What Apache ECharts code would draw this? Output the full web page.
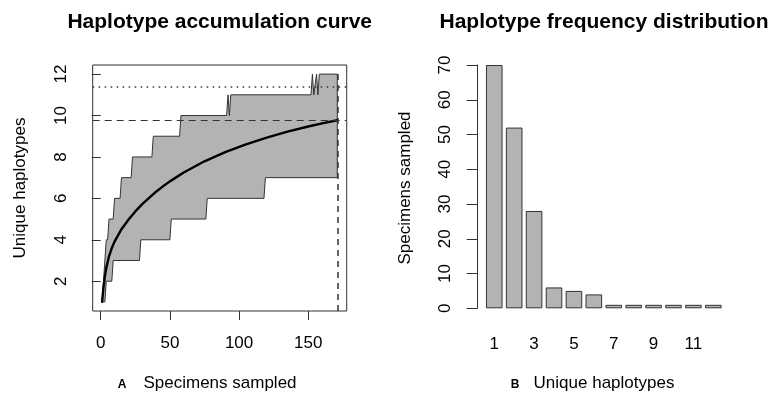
<!DOCTYPE html>
<html>
<head>
<meta charset="utf-8">
<script src="https://cdn.jsdelivr.net/npm/echarts@6/dist/echarts.min.js"></script>
<style>
  html, body { margin: 0; padding: 0; background: #fff; }
  #chart { width: 770px; height: 396px; }
</style>
</head>
<body>
<div id="chart"></div>
<script>
// left: haplotype accumulation (envelope corners + mean curve)
const upperX = [1, 4, 5, 6, 9, 10, 14, 15, 22, 23, 37, 38, 57, 58, 91, 92, 93, 94, 152, 153, 154, 156, 157, 158, 171]
const upperY = [1, 4, 4, 5, 5, 6, 6, 7, 7, 8, 8, 9, 9, 10, 10, 11, 10, 11, 11, 12, 11, 12, 11, 12, 12]
const lowerX = [1, 3, 4, 8, 9, 28, 29, 50, 51, 76, 77, 118, 119, 171]
const lowerY = [1, 1, 2, 2, 3, 3, 4, 4, 5, 5, 6, 6, 7, 7]
const meanX = [1, 2, 3, 4, 6, 8, 10, 15, 20, 25, 30, 40, 45, 50, 60, 75, 90, 105, 120, 135, 150, 160, 171]
const meanY = [1, 1.71, 2.23, 2.63, 3.2, 3.6, 3.91, 4.51, 4.97, 5.37, 5.72, 6.32, 6.58, 6.82, 7.25, 7.79, 8.23, 8.61, 8.93, 9.22, 9.47, 9.62, 9.77]
const meanEnd = 9.77
const estimate = 11.38
const totalSampled = 171
const accTicksX = [0, 50, 100, 150]
const accTicksY = [2, 4, 6, 8, 10, 12]

// right: haplotype frequency distribution
const haplotypes = ['1', '2', '3', '4', '5', '6', '7', '8', '9', '10', '11', '12']
const counts = [70, 52, 28, 6, 5, 4, 1, 1, 1, 1, 1, 1]

const FONT = 'Liberation Sans, Arial, sans-serif'
const INK = '#333'

let meanData = []
for (let i = 0; i < meanX.length; i++) {
  meanData.push([meanX[i], meanY[i]])
}

const chart = echarts.init(document.getElementById('chart'), null, { renderer: 'canvas' })
chart.setOption({
  animation: false,
  textStyle: { fontFamily: FONT },
  grid: [
    { left: 92.7, top: 65, width: 254, height: 246, show: true, borderColor: INK, borderWidth: 1, backgroundColor: 'transparent' },
    { left: 484.3, top: 65, width: 239, height: 243.3 }
  ],
  xAxis: [
    {
      gridIndex: 0,
      type: 'value',
      min: -5.8,
      max: 177.8,
      axisLine: { show: false },
      axisTick: { show: true, length: 9, lineStyle: { color: INK }, customValues: accTicksX },
      axisLabel: { fontSize: 17, color: '#000', margin: 24, customValues: accTicksX },
      splitLine: { show: false }
    },
    {
      gridIndex: 1,
      type: 'category',
      data: haplotypes,
      axisLine: { show: false },
      axisTick: { show: false },
      axisLabel: { fontSize: 17, color: '#000', margin: 28, interval: 1 }
    }
  ],
  yAxis: [
    {
      gridIndex: 0,
      type: 'value',
      min: 0.56,
      max: 12.44,
      axisLine: { show: false },
      axisTick: { show: true, length: 9, lineStyle: { color: INK }, customValues: accTicksY },
      axisLabel: { fontSize: 17, color: '#000', margin: 23, rotate: 90, customValues: accTicksY },
      splitLine: { show: false }
    },
    {
      gridIndex: 1,
      type: 'value',
      min: 0,
      max: 70,
      interval: 10,
      offset: 6.6,
      axisLine: { show: true, lineStyle: { color: INK } },
      axisTick: { show: true, length: 11, lineStyle: { color: INK } },
      axisLabel: { fontSize: 17, color: '#000', margin: 24, rotate: 90 },
      splitLine: { show: false }
    }
  ],
  graphic: [
    { type: 'text', x: 219.7, y: 22, style: { text: 'Haplotype accumulation curve', font: 'bold 21px ' + FONT, fill: '#000', align: 'center', verticalAlign: 'middle' } },
    { type: 'text', x: 604, y: 22, style: { text: 'Haplotype frequency distribution', font: 'bold 21px ' + FONT, fill: '#000', align: 'center', verticalAlign: 'middle' } },
    { type: 'text', x: 20, y: 188, rotation: Math.PI / 2, style: { text: 'Unique haplotypes', font: '17px ' + FONT, fill: '#000', align: 'center', verticalAlign: 'middle' } },
    { type: 'text', x: 405, y: 188, rotation: Math.PI / 2, style: { text: 'Specimens sampled', font: '17px ' + FONT, fill: '#000', align: 'center', verticalAlign: 'middle' } },
    { type: 'text', x: 220, y: 383, style: { text: 'Specimens sampled', font: '17px ' + FONT, fill: '#000', align: 'center', verticalAlign: 'middle' } },
    { type: 'text', x: 122, y: 385, style: { text: 'A', font: 'bold 12px ' + FONT, fill: '#000', align: 'center', verticalAlign: 'middle' } },
    { type: 'text', x: 604, y: 383, style: { text: 'Unique haplotypes', font: '17px ' + FONT, fill: '#000', align: 'center', verticalAlign: 'middle' } },
    { type: 'text', x: 515, y: 385, style: { text: 'B', font: 'bold 12px ' + FONT, fill: '#000', align: 'center', verticalAlign: 'middle' } }
  ],
  series: [
    {
      // min/max envelope drawn as one polygon through the axis scales
      type: 'custom',
      xAxisIndex: 0,
      yAxisIndex: 0,
      silent: true,
      data: [[1, 1]],
      renderItem: function (params, api) {
        let pts = []
        for (let i = 0; i < upperX.length; i++) {
          pts.push(api.coord([upperX[i], upperY[i]]))
        }
        for (let i = lowerX.length - 1; i >= 0; i--) {
          pts.push(api.coord([lowerX[i], lowerY[i]]))
        }
        return {
          type: 'polygon',
          shape: { points: pts },
          style: { fill: '#b3b3b3', stroke: INK, lineWidth: 1 }
        }
      }
    },
    {
      type: 'line',
      xAxisIndex: 0,
      yAxisIndex: 0,
      data: meanData,
      showSymbol: false,
      smooth: false,
      lineStyle: { color: '#000', width: 2.4, join: 'round', cap: 'round' },
      markLine: {
        silent: true,
        symbol: 'none',
        label: { show: false },
        data: [
          { yAxis: meanEnd, lineStyle: { type: [7, 5], color: INK, width: 1.2 } },
          { yAxis: estimate, lineStyle: { type: [1.5, 4.5], color: INK, width: 1.5 } },
          [
            { coord: [totalSampled, 0.56], lineStyle: { type: [6, 5], color: INK, width: 1.5 } },
            { coord: [totalSampled, 12] }
          ]
        ]
      }
    },
    {
      type: 'bar',
      xAxisIndex: 1,
      yAxisIndex: 1,
      data: counts,
      barCategoryGap: '16.7%',
      itemStyle: { color: '#b3b3b3', borderColor: INK, borderWidth: 1 }
    }
  ]
})
</script>
</body>
</html>
